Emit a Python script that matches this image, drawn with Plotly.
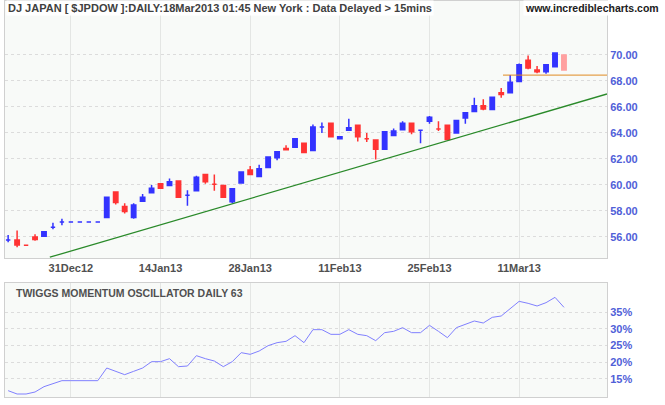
import plotly.graph_objects as go

opens  = [55.77,55.77,55.36,56.0,56.05,56.75,57.15,57.15,57.15,57.15,57.15,57.5,59.45,58.35,57.5,58.75,59.4,60.1,59.95,60.3,59.2,59.55,60.8,60.05,59.95,58.7,60.15,61.15,60.65,61.35,62.1,62.8,62.9,63.2,62.65,
          64.45,64.75,63.55,64.2,64.6,63.55,63.45,62.75,63.8,64.25,64.75,64.2,64.9,64.3,64.6,64.0,65.15,65.65,66.1,65.8,67.1,67.1,67.95,69.6,68.85,68.7,69.1,70.0]
highs  = [56.15,56.5,55.36,56.2,56.4,57.1,57.4,57.15,57.15,57.15,57.15,59.05,59.45,58.6,58.6,59.3,60.0,60.1,60.5,60.3,59.6,60.7,60.8,60.8,59.95,59.75,61.0,61.45,61.55,62.15,62.55,63.05,63.6,63.2,64.65,
          64.8,64.75,63.7,65.1,64.6,64.0,63.45,64.15,64.35,64.9,64.75,64.2,65.3,64.9,64.6,65.0,65.6,66.7,66.6,66.8,67.45,68.45,69.35,69.95,69.15,69.3,70.15,70.0]
lows   = [55.6,55.2,55.36,55.7,56.0,56.6,56.9,57.15,57.15,57.15,57.15,57.5,58.5,57.8,57.4,58.7,59.4,59.7,59.95,59.05,58.4,59.55,60.1,59.55,59.05,58.6,60.15,60.8,60.65,61.35,61.9,62.7,62.9,62.5,62.65,
          64.0,63.7,63.55,64.2,63.35,63.3,61.95,62.75,63.8,64.25,63.9,63.2,64.7,64.15,63.5,64.0,64.7,65.65,65.75,65.8,66.7,67.1,67.95,68.9,68.6,68.55,69.1,68.8]
closes = [55.77,55.38,55.36,55.8,56.4,56.75,57.15,57.15,57.15,57.15,57.15,59.05,58.65,57.95,58.45,59.05,59.75,59.75,60.25,59.05,59.2,60.6,60.25,60.05,59.05,59.7,61.0,60.8,61.25,62.15,62.55,62.7,63.55,62.5,64.45,
          64.45,63.7,63.7,64.4,63.7,63.55,62.75,64.1,64.15,64.75,64.1,64.2,65.2,64.3,63.5,64.95,65.55,66.1,65.85,66.75,66.95,67.9,69.25,69.0,68.7,69.25,70.15,68.85]
momentum = [11.4,10.4,10.4,11.0,12.6,13.6,14.4,14.4,14.4,14.4,14.4,18.2,17.2,16.2,17.2,18.2,20.1,20.1,21.0,18.6,18.8,21.9,21.0,20.3,18.6,20.1,22.8,22.3,23.3,24.9,25.8,26.2,27.9,25.8,29.7,29.7,28.3,28.3,29.7,28.3,27.9,26.4,28.8,29.2,30.3,28.8,28.8,31.0,29.2,27.3,30.3,31.4,32.3,31.7,33.4,33.8,35.9,38.2,37.6,36.8,37.8,39.4,36.4]
date_tick_idx = [7, 17, 27, 37, 47, 57]
date_tick_labels = ["31Dec12", "14Jan13", "28Jan13", "11Feb13", "25Feb13", "11Mar13"]
price_ticks = [56, 58, 60, 62, 64, 66, 68, 70]
mom_ticks = [15, 20, 25, 30, 35]
trend_x = [4.65, 66.8]
trend_y = [54.44, 67.0]
support_x = [55.2, 66.8]
support_y = [68.45, 68.45]

n = len(closes)
idx = list(range(n))
fig = go.Figure()
fig.add_trace(go.Candlestick(x=idx[:-1], open=opens[:-1], high=highs[:-1], low=lows[:-1], close=closes[:-1],
    increasing=dict(line=dict(color="#3333FF", width=1.5), fillcolor="#3333FF"),
    decreasing=dict(line=dict(color="#FF3333", width=1.5), fillcolor="#FF3333"),
    whiskerwidth=0, showlegend=False, xaxis="x", yaxis="y"))
fig.add_trace(go.Candlestick(x=idx[-1:], open=opens[-1:], high=highs[-1:], low=lows[-1:], close=closes[-1:],
    increasing=dict(line=dict(color="#FFA0A0", width=1.5), fillcolor="#FFA0A0"),
    decreasing=dict(line=dict(color="#FFA0A0", width=1.5), fillcolor="#FFA0A0"),
    whiskerwidth=0, showlegend=False, xaxis="x", yaxis="y"))
fig.add_trace(go.Scatter(x=trend_x, y=trend_y, mode="lines", line=dict(color="#2A8A2A", width=1.3),
    showlegend=False, hoverinfo="skip"))
fig.add_trace(go.Scatter(x=support_x, y=support_y, mode="lines", line=dict(color="#E08A20", width=1),
    showlegend=False, hoverinfo="skip"))
fig.add_trace(go.Scatter(x=idx, y=momentum, mode="lines", line=dict(color="#8080FF", width=1),
    showlegend=False, xaxis="x2", yaxis="y2"))

xr = [-0.35, 66.8]
grid = "#E4E6E4"
tickfont = dict(family="Liberation Sans", size=11, color="#5060D8", weight="bold")
common_x = dict(range=xr, domain=[5/665, 607/665], tickvals=date_tick_idx, showgrid=True, gridcolor=grid,
                zeroline=False, showline=True, linecolor="#D0D0D0", mirror=True, ticks="")
fig.update_layout(
    width=665, height=405, margin=dict(l=0, r=0, t=0, b=0),
    paper_bgcolor="white", plot_bgcolor="#F8FAF8",
    xaxis=dict(**common_x, ticktext=date_tick_labels, rangeslider=dict(visible=False),
               tickfont=dict(family="Liberation Sans", size=11, color="#505050", weight="bold"), anchor="y"),
    yaxis=dict(domain=[147/405, 404/405], range=[54.38, 74.15], side="right", tickvals=price_ticks,
               ticktext=[f"{v:.2f}" for v in price_ticks], tickfont=tickfont, showgrid=True,
               gridcolor="#DCDCDC", griddash="dot", zeroline=False, showline=True, linecolor="#D0D0D0",
               mirror=True, anchor="x"),
    xaxis2=dict(**common_x, showticklabels=False, anchor="y2"),
    yaxis2=dict(domain=[8/405, 122/405], range=[9.5, 43.7], side="right", tickvals=mom_ticks,
                ticktext=[f"{v}%" for v in mom_ticks], tickfont=tickfont, showgrid=True,
                gridcolor="#DCDCDC", griddash="dot", zeroline=False, showline=True, linecolor="#D0D0D0",
                mirror=True, anchor="x2"),
    annotations=[
        dict(text="<b>DJ JAPAN [ $JPDOW ]:DAILY:18Mar2013 01:45 New York : Data Delayed > 15mins</b>",
             x=6/665, y=1.0, xref="paper", yref="paper", xanchor="left", yanchor="top", showarrow=False,
             font=dict(family="Liberation Sans", size=11, color="#404040"), bgcolor="white"),
        dict(text="<b>www.incrediblecharts.com</b>", x=661/665, y=1.0, xref="paper", yref="paper",
             xanchor="right", yanchor="top", showarrow=False,
             font=dict(family="Liberation Sans", size=10.5, color="#202020"), bgcolor="white"),
        dict(text="<b>TWIGGS MOMENTUM OSCILLATOR DAILY 63</b>", x=14/665, y=(405-285)/405, xref="paper",
             yref="paper", xanchor="left", yanchor="top", showarrow=False,
             font=dict(family="Liberation Sans", size=10.5, color="#505050")),
    ],
)
fig.write_html("out.html", config={"displayModeBar": False},
               post_script="document.body.style.margin='0';document.body.style.overflow='hidden';")
